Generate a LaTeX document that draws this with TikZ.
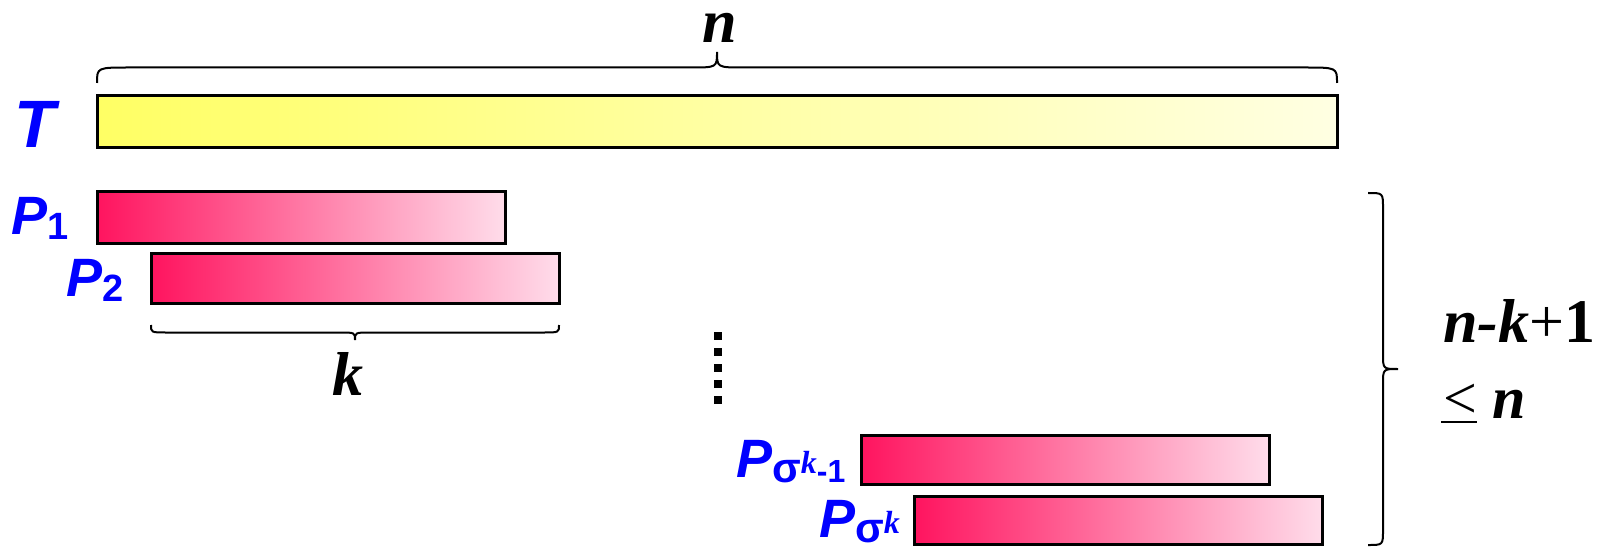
\documentclass[tikz,border=0pt]{standalone}
\usepackage{fontspec}
\setmainfont{Liberation Serif}
\setsansfont{Liberation Sans}
\usetikzlibrary{calc}
\definecolor{lblue}{RGB}{0,0,255}
\definecolor{tyel}{RGB}{255,255,100}
\definecolor{tpale}{RGB}{255,255,226}
\definecolor{pdeep}{RGB}{255,20,95}
\definecolor{ppale}{RGB}{255,220,234}
\newcommand\HBrace[5]{%
  \draw[bracepen] let \p1=(#1), \p2=(#2), \p3=($(#1)!0.5!(#2)$) in
    (\x1,\y1) .. controls (\x1,\y1+#3) .. (\x1+#4,\y1+#3)
    -- (\x3-#5,\y1+#3) .. controls (\x3,\y1+#3) .. (\x3,\y1+2*#3)
    .. controls (\x3,\y1+#3) .. (\x3+#5,\y1+#3)
    -- (\x2-#4,\y1+#3) .. controls (\x2,\y1+#3) .. (\x2,\y1);}
\newcommand\VBrace[5]{%
  \draw[bracepen] let \p1=(#1), \p2=(#2), \p3=($(#1)!0.5!(#2)$) in
    (\x1,\y1) .. controls (\x1+#3,\y1) .. (\x1+#3,\y1-#4)
    -- (\x1+#3,\y3+#5) .. controls (\x1+#3,\y3) .. (\x1+2*#3,\y3)
    .. controls (\x1+#3,\y3) .. (\x1+#3,\y3-#5)
    -- (\x1+#3,\y2+#4) .. controls (\x1+#3,\y2) .. (\x1,\y2);}
\newcommand\PLbl[1]{\fontsize{54}{56}\selectfont P#1}
\newcommand\SubNum[1]{\raisebox{-5pt}{\upshape\fontsize{38}{40}\selectfont #1}}
\newcommand\SigSub{\raisebox{-5pt}{\upshape\fontsize{42}{44}\selectfont σ}\raisebox{4pt}{\rmfamily\bfseries\itshape\fontsize{32}{34}\selectfont k}}
\begin{document}
\begin{tikzpicture}[x=1pt,y=-1pt,
  bar/.style={draw=black, line width=3pt, inner sep=0pt, outer sep=0pt, anchor=north west, minimum height=50pt},
  tbar/.style={bar, left color=tyel, right color=tpale, minimum width=1240pt, minimum height=52pt},
  pbar/.style={bar, left color=pdeep, right color=ppale, minimum width=408pt},
  lbl/.style={text=lblue, inner sep=0pt, font=\sffamily\bfseries\itshape},
  blk/.style={text=black, inner sep=0pt, font=\rmfamily\bfseries\itshape},
  bracepen/.style={draw=black, line width=2pt},
  dotcol/.style={draw=black, line width=8pt, dash pattern=on 8pt off 8pt}]
\useasboundingbox (0,0) rectangle (1606,548);
% bars
\node[tbar] (T) at (97,96) {};
\node[pbar, minimum height=51pt] (P1) at (97,192) {};
\node[pbar] (P2) at (151,253) {};
\node[pbar, minimum height=49pt] (Pk1) at (861,435) {};
\node[pbar, minimum height=48pt] (Pk) at (914,496) {};
% labels
\node[lbl, anchor=base, font=\sffamily\bfseries\itshape\fontsize{67}{70}\selectfont] (Tl) at (35,148) {T};
\node[lbl, anchor=base west] (P1l) at (11,235) {\PLbl{\SubNum{1}}};
\node[lbl, anchor=base west] (P2l) at (66,296) {\PLbl{\SubNum{2}}};
\node[lbl, anchor=base west] (Pk1l) at (736,477) {\PLbl{\SigSub\raisebox{-5pt}{\upshape\fontsize{32}{34}\selectfont -1}}};
\node[lbl, anchor=base west] (Pkl) at (819,537) {\PLbl{\SigSub}};
% braces
\coordinate (nbL) at ([yshift=13pt]T.north west);
\coordinate (nbR) at ([yshift=13pt]T.north east);
\HBrace{nbL}{nbR}{15.5pt}{33pt}{27pt}
\node[blk, anchor=base, font=\rmfamily\bfseries\itshape\fontsize{62}{64}\selectfont] (nl) at (720,43) {n};
\coordinate (kbL) at ([yshift=-22pt]P2.south west);
\coordinate (kbR) at ([yshift=-22pt]P2.south east);
\HBrace{kbL}{kbR}{-7.5pt}{16pt}{16pt}
\node[blk, anchor=base, font=\rmfamily\bfseries\itshape\fontsize{62}{64}\selectfont] (kl) at (348,395) {k};
\coordinate (rbT) at (1368,193);
\coordinate (rbB) at (1368,545);
\VBrace{rbT}{rbB}{15pt}{15pt}{15pt}
\node[blk, anchor=base west, font=\rmfamily\fontsize{62}{64}\selectfont] (cnt) at (1443,342)
  {{\bfseries\itshape n-k}{\mdseries\upshape +}{\bfseries\upshape 1}};
\node[blk, anchor=base west, font=\rmfamily\fontsize{60}{62}\selectfont] (le) at (1443,418)
  {{\mdseries\upshape <\llap{\rule[-5pt]{36pt}{2pt}}} {\bfseries\itshape n}};
% dots
\coordinate (dT) at (718,332);
\coordinate (dB) at (718,404);
\draw[dotcol] (dT) -- (dB);
\end{tikzpicture}
\end{document}
